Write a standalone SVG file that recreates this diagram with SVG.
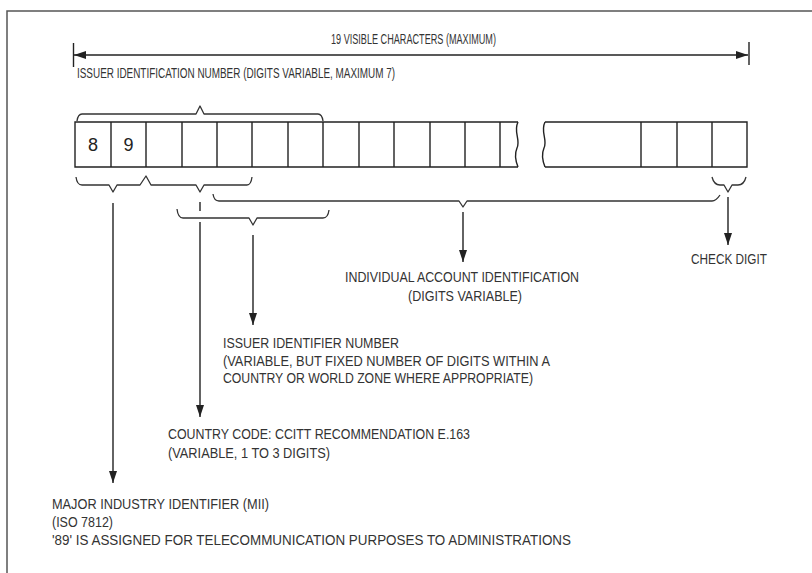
<svg xmlns="http://www.w3.org/2000/svg" width="812" height="573" viewBox="0 0 812 573">
<defs>
<marker id="ah" viewBox="0 0 12 8" refX="12" refY="4" markerWidth="12" markerHeight="8" markerUnits="userSpaceOnUse" orient="auto">
<path d="M0,0 L12,4 L0,8 z" fill="#222"/>
</marker>
</defs>
<style>
.ln{stroke:#222;stroke-width:1.4;fill:none}
.br{stroke:#333;stroke-width:1.3;fill:none;stroke-linejoin:round}
.cell{stroke:#222;stroke-width:1.4;fill:none}
text{font-family:"Liberation Sans",Arial,sans-serif;font-size:14px;fill:#333}
.dig{font-size:18px;fill:#222}
</style>
<rect width="812" height="573" fill="#fff"/>
<path d="M7,573 V11 H812" fill="none" stroke="#555" stroke-width="1.5"/>

<g id="dimension">
<line class="ln" x1="73.5" y1="43" x2="73.5" y2="67"/>
<line class="ln" x1="749" y1="42" x2="749" y2="65"/>
<line class="ln" x1="400" y1="55" x2="74" y2="55" marker-end="url(#ah)"/>
<line class="ln" x1="400" y1="55" x2="748" y2="55" marker-end="url(#ah)"/>
<text x="331" y="44" textLength="165" lengthAdjust="spacingAndGlyphs">19 VISIBLE CHARACTERS (MAXIMUM)</text>
</g>

<g id="issuer-identification-number">
<text x="77" y="78" textLength="318" lengthAdjust="spacingAndGlyphs">ISSUER IDENTIFICATION NUMBER (DIGITS VARIABLE, MAXIMUM 7)</text>
<path class="br" d="M77,121 Q78,114 82,114 H196 L200,106 L204,114 H318 Q322,114 323,121"/>
</g>

<g id="cells">
<path class="cell" d="M518,122 H75 V167 H518"/>
<path class="cell" d="M111,122V167 M146,122V167 M182,122V167 M217,122V167 M252,122V167 M288,122V167 M323,122V167 M359,122V167 M394,122V167 M430,122V167 M465,122V167 M500,122V167"/>
<path class="cell" d="M518,122 C513,132 521,140 517,148 C514,155 516,162 518,167"/>
<path class="cell" d="M545,122 H747 V167 H545"/>
<path class="cell" d="M545,122 C540,132 548,140 544,148 C541,155 543,162 545,167"/>
<path class="cell" d="M641,122V167 M677,122V167 M712,122V167"/>
<text class="dig" x="93" y="151" text-anchor="middle">8</text>
<text class="dig" x="128.5" y="151" text-anchor="middle">9</text>
</g>

<g id="connectors">
<path class="br" d="M76,177 Q77,185 82,185 H109 L113,192 L117,185 H140 L146,176 L151,185 H196 L200,192 L204,185 H247 Q251,185 252,177"/>
<path class="br" d="M213,194 Q214,201 219,201 H459 L463,207 L467,201 H712 Q716,201 720,195"/>
<path class="br" d="M177,209 Q178,218 183,218 H249 L253,225 L257,218 H323 Q328,218 329,210"/>
<path class="br" d="M712,177 Q714,185 720,185 H724 L728,192 L732,185 H738 Q744,185 746,177"/>
<line class="ln" x1="113" y1="203" x2="113" y2="483" marker-end="url(#ah)"/>
<line class="ln" x1="200" y1="202" x2="200" y2="211"/>
<line class="ln" x1="200" y1="222" x2="200" y2="417" marker-end="url(#ah)"/>
<line class="ln" x1="253" y1="235" x2="253" y2="325" marker-end="url(#ah)"/>
<line class="ln" x1="463" y1="212" x2="463" y2="262" marker-end="url(#ah)"/>
<line class="ln" x1="728" y1="197" x2="728" y2="245" marker-end="url(#ah)"/>
</g>

<g id="individual-account">
<text x="345" y="282" textLength="234" lengthAdjust="spacingAndGlyphs">INDIVIDUAL ACCOUNT IDENTIFICATION</text>
<text x="408" y="301" textLength="114" lengthAdjust="spacingAndGlyphs">(DIGITS VARIABLE)</text>
</g>

<g id="check-digit">
<text x="691" y="264" textLength="76" lengthAdjust="spacingAndGlyphs">CHECK DIGIT</text>
</g>

<g id="issuer-identifier">
<text x="223" y="348" textLength="176" lengthAdjust="spacingAndGlyphs">ISSUER IDENTIFIER NUMBER</text>
<text x="223" y="366" textLength="327" lengthAdjust="spacingAndGlyphs">(VARIABLE, BUT FIXED NUMBER OF DIGITS WITHIN A</text>
<text x="223" y="383" textLength="310" lengthAdjust="spacingAndGlyphs">COUNTRY OR WORLD ZONE WHERE APPROPRIATE)</text>
</g>

<g id="country-code">
<text x="168" y="439" textLength="302" lengthAdjust="spacingAndGlyphs">COUNTRY CODE: CCITT RECOMMENDATION E.163</text>
<text x="168" y="458" textLength="162" lengthAdjust="spacingAndGlyphs">(VARIABLE, 1 TO 3 DIGITS)</text>
</g>

<g id="mii">
<text x="52" y="509" textLength="217" lengthAdjust="spacingAndGlyphs">MAJOR INDUSTRY IDENTIFIER (MII)</text>
<text x="52" y="527" textLength="61" lengthAdjust="spacingAndGlyphs">(ISO 7812)</text>
<text x="52" y="545" textLength="519" lengthAdjust="spacingAndGlyphs">'89' IS ASSIGNED FOR TELECOMMUNICATION PURPOSES TO ADMINISTRATIONS</text>
</g>
</svg>
